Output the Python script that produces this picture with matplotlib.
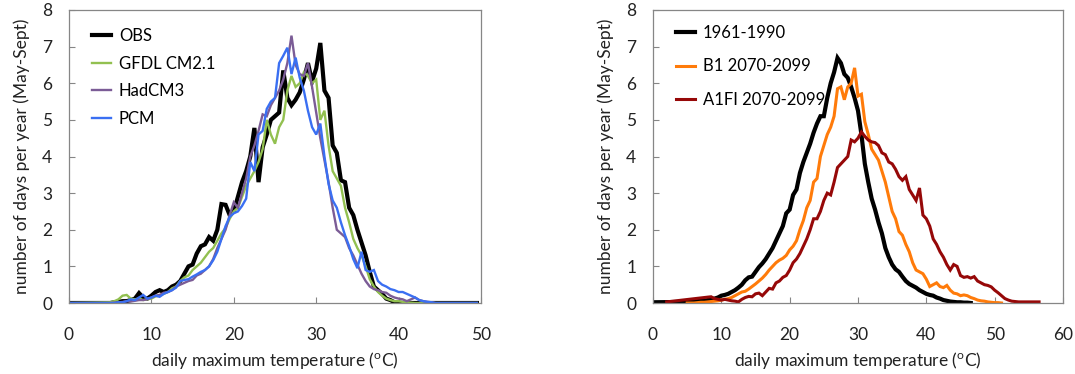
import numpy as np
import matplotlib
matplotlib.use("Agg")
import matplotlib.pyplot as plt

plt.rcParams['font.family'] = ['Lato', 'DejaVu Sans']
plt.rcParams['mathtext.fontset'] = 'custom'
plt.rcParams['mathtext.rm'] = 'Lato'

STEP = 0.5

# ---- left panel: observations vs. models (values every 0.5 C, starting at 5 C)
left_start = 5.0
left_end = 49.5
obs = [0.0, 0.02, 0.03, 0.05, 0.05, 0.08, 0.12, 0.27, 0.15, 0.12,
       0.2, 0.3, 0.35, 0.3, 0.35, 0.45, 0.5, 0.6, 0.8, 1.0,
       1.05, 1.35, 1.55, 1.6, 1.8, 1.7, 2.0, 2.7, 2.68, 2.4,
       2.5, 2.9, 3.3, 3.6, 4.0, 4.78, 3.3, 4.25, 4.6, 5.0,
       5.1, 5.2, 6.35, 5.6, 5.4, 5.55, 5.75, 6.1, 6.55, 6.05,
       6.4, 7.1, 5.8, 5.6, 4.3, 4.1, 3.35, 3.3, 2.6, 2.4,
       2.0, 1.65, 1.3, 0.85, 0.45, 0.35, 0.25, 0.12, 0.08, 0.02,
       0.01, 0.0]
gfdl = [0.02, 0.05, 0.1, 0.2, 0.22, 0.12, 0.1, 0.12, 0.08, 0.1,
        0.12, 0.18, 0.2, 0.25, 0.3, 0.4, 0.45, 0.6, 0.7, 0.75,
        0.9, 1.0, 1.1, 1.25, 1.4, 1.5, 1.7, 1.9, 2.05, 2.3,
        2.5, 2.6, 2.9, 3.2, 3.4, 3.6, 3.85, 4.2, 5.0, 4.6,
        4.35, 4.8, 5.0, 5.8, 6.2, 5.9, 6.0, 6.3, 6.2, 6.0,
        6.1, 5.0, 5.25, 4.3, 3.6, 3.4, 3.2, 2.6, 2.2, 1.75,
        1.5, 1.3, 1.0, 0.65, 0.45, 0.3, 0.2, 0.12, 0.08, 0.05,
        0.05, 0.03, 0.02, 0.01, 0.0]
hadcm3 = [0.0, 0.01, 0.02, 0.03, 0.05, 0.04, 0.06, 0.08, 0.08, 0.1,
          0.15, 0.2, 0.22, 0.28, 0.3, 0.35, 0.45, 0.5, 0.55, 0.6,
          0.63, 0.75, 0.8, 0.9, 1.0, 1.2, 1.5, 1.75, 2.0, 2.4,
          2.75, 2.6, 3.0, 3.4, 4.0, 4.3, 4.7, 5.15, 5.1, 5.4,
          5.6, 5.8, 6.1, 6.55, 7.3, 6.5, 6.25, 6.2, 6.55, 5.9,
          5.2, 4.5, 3.9, 3.3, 2.6, 2.0, 1.9, 1.8, 1.5, 1.3,
          1.05, 0.8, 0.6, 0.45, 0.38, 0.35, 0.3, 0.28, 0.2, 0.15,
          0.12, 0.1, 0.05, 0.1, 0.15, 0.08, 0.05, 0.03, 0.02, 0.0]
pcm = [0.0, 0.0, 0.02, 0.02, 0.05, 0.1, 0.08, 0.15, 0.22, 0.12,
       0.15, 0.2, 0.17, 0.25, 0.3, 0.35, 0.42, 0.6, 0.63, 0.65,
       0.72, 0.78, 0.85, 0.9, 1.0, 1.17, 1.4, 1.75, 2.1, 2.35,
       2.45, 2.5, 2.65, 2.85, 3.85, 3.6, 4.6, 4.7, 5.3, 5.5,
       5.6, 6.55, 6.75, 6.97, 6.25, 6.7, 6.15, 5.8, 5.25, 4.8,
       4.6, 4.9, 4.0, 3.25, 2.8, 2.6, 2.2, 1.85, 1.55, 1.2,
       0.95, 1.4, 0.9, 0.85, 0.9, 0.6, 0.5, 0.45, 0.38, 0.35,
       0.3, 0.3, 0.25, 0.2, 0.15, 0.08, 0.05, 0.03, 0.02, 0.0]

left_names = ['OBS', 'GFDL CM2.1', 'HadCM3', 'PCM']
left_colors = ['black', '#92c050', '#7b5c96', '#3a6ff2']
left_widths = [3.0, 1.7, 1.7, 1.7]

# ---- right panel: present vs. future scenarios
present = [0.03, 0.03, 0.04, 0.05, 0.06, 0.06, 0.08, 0.1, 0.12, 0.15,
           0.2, 0.22, 0.25, 0.3, 0.35, 0.42, 0.5, 0.62, 0.7, 0.72,
           0.85, 0.98, 1.08, 1.2, 1.35, 1.5, 1.7, 1.9, 2.1, 2.45,
           2.55, 2.95, 3.1, 3.55, 3.85, 4.1, 4.35, 4.65, 4.9, 5.1,
           5.1, 5.6, 6.0, 6.3, 6.69, 6.55, 6.25, 6.15, 5.9, 5.6,
           5.25, 4.6, 3.8, 3.3, 2.85, 2.55, 2.2, 1.9, 1.5, 1.25,
           1.05, 0.92, 0.85, 0.72, 0.6, 0.52, 0.47, 0.42, 0.35, 0.3,
           0.25, 0.22, 0.2, 0.15, 0.12, 0.08, 0.06, 0.04, 0.03, 0.02,
           0.02, 0.01, 0.01, 0.0]
b1 = [0.0, 0.0, 0.0, 0.01, 0.02, 0.02, 0.03, 0.04, 0.05, 0.06,
      0.08, 0.1, 0.12, 0.15, 0.2, 0.25, 0.3, 0.32, 0.38, 0.45,
      0.52, 0.6, 0.68, 0.78, 0.9, 1.0, 1.1, 1.17, 1.22, 1.3,
      1.45, 1.55, 1.7, 2.0, 2.25, 2.6, 2.8, 3.3, 3.4, 4.0,
      4.3, 4.6, 4.8, 5.1, 5.85, 5.9, 5.55, 5.9, 6.0, 6.42,
      5.65, 5.7, 4.95, 4.6, 4.2, 4.05, 3.9, 3.6, 3.3, 2.9,
      2.5, 2.3, 1.95, 1.85, 1.6, 1.4, 1.1, 0.9, 0.85, 0.8,
      0.65, 0.45, 0.5, 0.55, 0.45, 0.42, 0.48, 0.35, 0.27, 0.25,
      0.2, 0.22, 0.2, 0.15, 0.12, 0.08, 0.06, 0.05, 0.03, 0.02,
      0.01, 0.01, 0.0]
a1fi = [0.16, 0.17, 0.12, 0.1, 0.08, 0.1, 0.08, 0.06, 0.05, 0.03,
        0.1, 0.15, 0.18, 0.17, 0.25, 0.27, 0.2, 0.3, 0.4, 0.38,
        0.55, 0.6, 0.7, 0.75, 0.9, 1.1, 1.2, 1.35, 1.55, 1.75,
        2.0, 2.3, 2.3, 2.5, 2.8, 3.0, 2.95, 3.3, 3.7, 3.8,
        3.9, 4.0, 4.45, 4.4, 4.5, 4.67, 4.55, 4.45, 4.4, 4.38,
        4.3, 4.1, 4.05, 3.85, 3.8, 3.65, 3.45, 3.35, 3.45, 3.1,
        2.95, 2.8, 3.14, 2.4, 2.3, 2.1, 1.75, 1.6, 1.4, 1.25,
        1.05, 0.9, 1.05, 1.0, 0.75, 0.7, 0.72, 0.68, 0.72, 0.6,
        0.55, 0.5, 0.48, 0.44, 0.35, 0.28, 0.2, 0.12, 0.08, 0.05,
        0.04, 0.03, 0.03, 0.03, 0.03, 0.03, 0.03, 0.03]
# (first temperature, first value, start of the 0.5 C steps) for each right-panel series
right_heads = [(0.0, 0.02, 5.0), (5.0, 0.0, 5.0), (2.0, 0.03, 8.0)]
right_names = ['1961-1990', 'B1 2070-2099', 'A1FI 2070-2099']
right_colors = ['black', '#ff7b0a', '#960808']
right_widths = [3.0, 2.2, 2.2]

fig = plt.figure(figsize=(10.75, 3.74), dpi=100)
ax1 = fig.add_axes([69/1075, 71/374, 412/1075, 293/374])
ax2 = fig.add_axes([653/1075, 71/374, 410/1075, 293/374])

frame = '#868686'
xlab = 'daily maximum temperature ($^{\\rm o}$C)'
ylab = 'number of days per year (May-Sept)'
fs = 12.5

for ys, name, c, lw in zip([obs, gfdl, hadcm3, pcm], left_names, left_colors, left_widths):
    t = left_start + STEP*np.arange(len(ys))
    t = np.concatenate([[0.0], t, [left_end]])
    v = np.concatenate([[0.0], ys, [0.0]])
    ax1.plot(t, v, color=c, lw=lw, label=name, solid_joinstyle='miter')

for ys, head, name, c, lw in zip([present, b1, a1fi], right_heads, right_names, right_colors, right_widths):
    t0, v0, start = head
    t = start + STEP*np.arange(len(ys))
    t = np.concatenate([[t0], t])
    v = np.concatenate([[v0], ys])
    ax2.plot(t, v, color=c, lw=lw, label=name, solid_joinstyle='miter')

ax1.set_xlim(0, 50)
ax1.set_xticks(range(0, 51, 10))
ax2.set_xlim(0, 60)
ax2.set_xticks(range(0, 61, 10))

for ax in (ax1, ax2):
    ax.set_ylim(0, 8)
    ax.set_yticks(range(0, 9))
    for s in ax.spines.values():
        s.set_color(frame)
        s.set_linewidth(0.9)
    ax.tick_params(direction='in', length=4, color=frame, labelsize=fs, labelcolor='#222222')
    ax.tick_params(axis='x', pad=17)
    ax.tick_params(axis='y', pad=12)
    ax.set_xlabel(xlab, fontsize=fs, color='#222222')
    ax.set_ylabel(ylab, fontsize=fs, color='#222222')
    ax.xaxis.set_label_coords(0.5, -0.16)
    ax.yaxis.set_label_coords(-0.094, 0.5)

ax1.legend(loc='upper left', bbox_to_anchor=(0.02, 0.99), frameon=False, fontsize=12,
           handlelength=1.1, handletextpad=0.5, labelspacing=0.7)
ax2.legend(loc='upper left', bbox_to_anchor=(0.02, 1.0), frameon=False, fontsize=12,
           handlelength=1.1, handletextpad=0.5, labelspacing=1.05)

fig.savefig('out.png', dpi=100)
